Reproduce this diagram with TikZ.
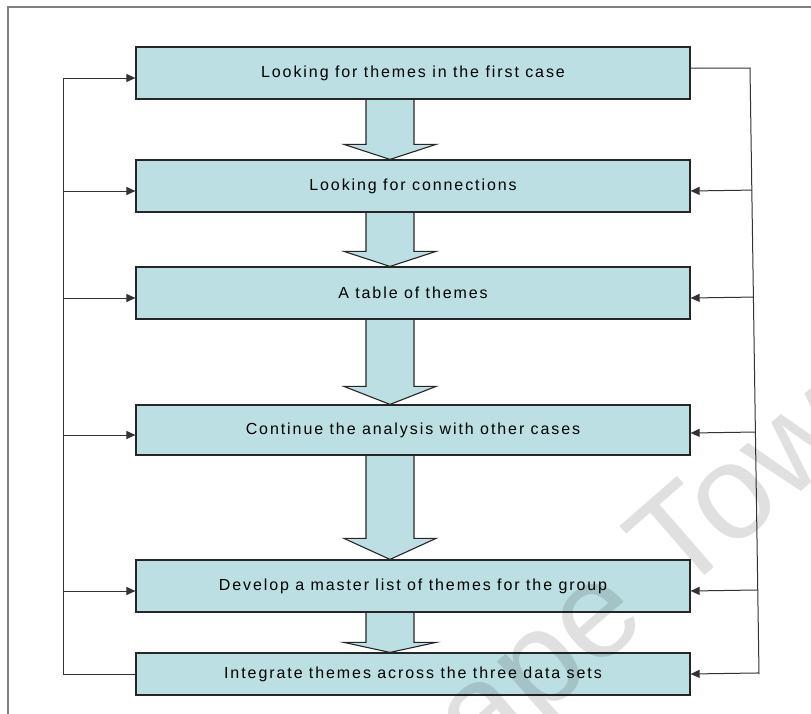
\documentclass[tikz,border=0pt]{standalone}
\usepackage{fontspec}
\setmainfont{Liberation Sans}[LetterSpace=12]
\usetikzlibrary{arrows.meta,calc}
\definecolor{cajaazul}{RGB}{187,223,227}
\tikzset{
	caja/.style={draw=black!85, line width=1.2pt, fill=cajaazul, minimum width=554pt, minimum height=52pt, inner sep=0pt, font=\fontsize{16}{19}\selectfont},
	linea/.style={draw=black!80, line width=1pt},
	flechita/.style={linea, {Triangle[length=9pt,width=8pt]}-},
	bloque/.style={draw=black!85, line width=1.1pt, fill=cajaazul},
}
\begin{document}
\begin{tikzpicture}[x=1pt, y=-1pt]
	\useasboundingbox (0,0) rectangle (811,713);
	\clip (0,0) rectangle (811,713);
	\draw[gray, line width=2pt] (8,730) -- (8,7) -- (830,7);

	\node[caja] (caso) at (413,73) {Looking for themes in the first case};
	\node[caja] (conex) at (413,186) {Looking for connections};
	\node[caja] (tabla) at (413,293) {A table of themes};
	\node[caja, minimum height=50pt] (cont) at (413,430) {Continue the analysis with other cases};
	\node[caja] (lista) at (413,586) {Develop a master list of themes for the group};
	\node[caja, minimum height=42pt] (integ) at (413,674) {Integrate themes across the three data sets};

	% flechas gruesas entre las cajas
	\foreach \a/\b/\h in {caso/conex/15, conex/tabla/15, tabla/cont/18, cont/lista/21, lista/integ/10}{
		\filldraw[bloque] let \p1=(\a.south), \p2=(\b.north) in
			(\x1-47pt,\y1-0.6pt) -- (\x1-47pt,\y2+\h pt) -- (\x1-69pt,\y2+\h pt) -- (\x1-23pt,\y2)
			-- (\x1+23pt,\y2+\h pt) -- (\x1+1pt,\y2+\h pt) -- (\x1+1pt,\y1-0.6pt);
	}

	% retorno por la izquierda
	\coordinate (izq) at (63,78);
	\draw[linea] (integ.west) -| (izq);
	\foreach \n in {caso, conex, tabla, cont, lista}{
		\coordinate (t) at ([yshift=-5pt]\n.west);
		\draw[flechita] (t) -- (t -| izq);
	}

	% retorno por la derecha
	\coordinate (der1) at (750,68);
	\coordinate (der2) at (759,674);
	\draw[linea] ([yshift=5pt]caso.east) -- (der1) -- (der2);
	\foreach \n/\s in {conex/-5, tabla/-5, cont/-3, lista/-5, integ/0}{
		\coordinate (t) at ([yshift=\s pt]\n.east);
		\draw[flechita] (t) -- ($(der1)!(t)!(der2)$);
	}

	\node[rotate=41, text=black, opacity=0.12, font=\fontsize{135}{135}\selectfont\addfontfeature{LetterSpace=0}] (marca) at (640,588) {Cape Town};
\end{tikzpicture}
\end{document}
